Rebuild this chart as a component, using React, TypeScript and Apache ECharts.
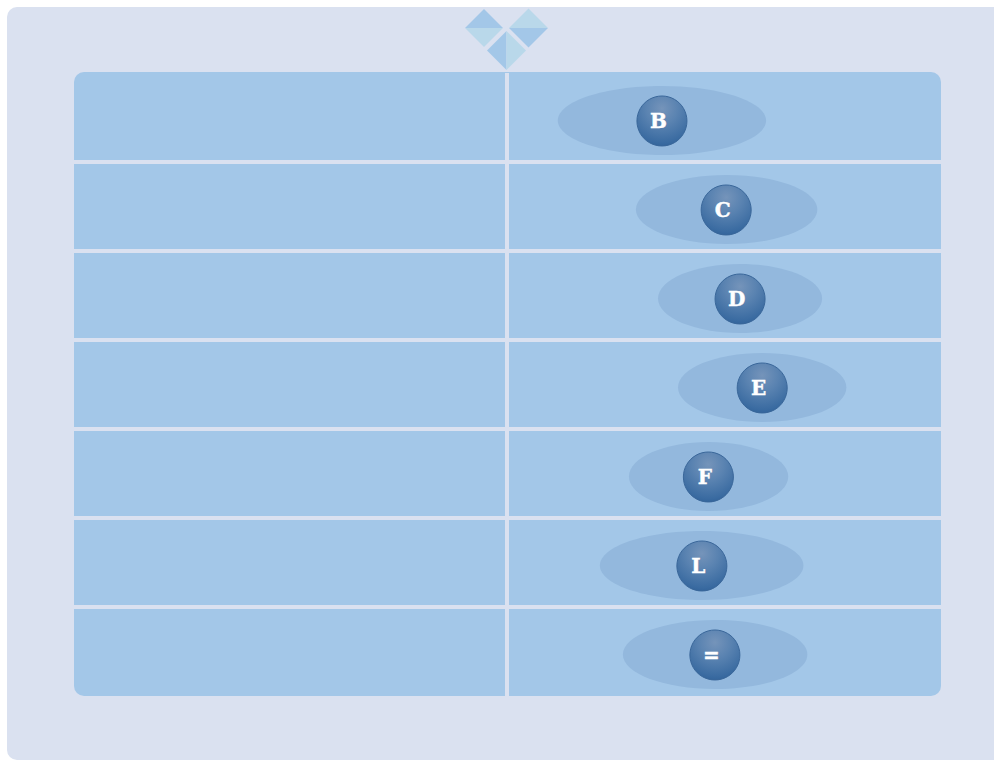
import React, { useEffect, useRef } from "react";
import * as echarts from "echarts";

const categories = ["B", "C", "D", "E", "F", "L", "="];
const means = [35.7, 50.5, 53.7, 58.8, 46.4, 44.9, 47.9];
const lows = [11.7, 29.7, 34.8, 39.4, 28.1, 21.4, 26.7];
const highs = [59.7, 71.5, 72.6, 78.2, 64.8, 68.3, 69.2];

const DARK = "#a3c7e8";
const LIGHT = "#b9d8ea";

function diamond(cx: number, cy: number, r: number, split: "h" | "v", first: string, second: string) {
  const a = split === "h"
    ? [[cx - r, cy], [cx, cy - r], [cx + r, cy]]
    : [[cx, cy - r], [cx - r, cy], [cx, cy + r]];
  const b = split === "h"
    ? [[cx - r, cy], [cx, cy + r], [cx + r, cy]]
    : [[cx, cy - r], [cx + r, cy], [cx, cy + r]];
  return [
    { type: "polygon", z: 1, shape: { points: a }, style: { fill: first } },
    { type: "polygon", z: 1, shape: { points: b }, style: { fill: second } },
  ];
}

export default function App() {
  const ref = useRef<HTMLDivElement>(null);
  useEffect(() => {
    const chart = echarts.init(ref.current!, undefined, { renderer: "svg" });
    chart.setOption({
      animation: false,
      backgroundColor: "#ffffff",
      graphic: [
        { type: "rect", z: -10, shape: { x: 7, y: 7, width: 1000, height: 753, r: 10 }, style: { fill: "#dae1f0" } },
        { type: "rect", z: -9, shape: { x: 74, y: 72, width: 867, height: 624, r: 10 }, style: { fill: "#a3c7e8" } },
        ...diamond(484, 28, 19, "h", DARK, LIGHT),
        ...diamond(528.5, 28, 19.5, "h", LIGHT, DARK),
        ...diamond(506.5, 50.5, 19.5, "v", DARK, LIGHT),
      ],
      grid: { left: 73, top: 73, width: 868, height: 623 },
      xAxis: {
        type: "value",
        min: -100,
        max: 100,
        interval: 100,
        axisLine: { show: false },
        axisTick: { show: false },
        axisLabel: { show: false },
        splitLine: { show: true, showMinLine: false, showMaxLine: false, lineStyle: { color: "#dae1f0", width: 4 } },
      },
      yAxis: {
        type: "category",
        inverse: true,
        data: categories,
        axisLine: { show: false },
        axisTick: { show: false },
        axisLabel: { show: false },
        splitLine: { show: true, showMinLine: false, showMaxLine: false, lineStyle: { color: "#dae1f0", width: 4 } },
      },
      series: [
        {
          type: "custom",
          clip: false,
          data: categories.map((c, i) => [means[i], i, lows[i], highs[i], c]),
          encode: { x: 0, y: 1 },
          renderItem: (_p: any, api: any) => {
            const [cx, cy0] = api.coord([api.value(0), api.value(1)]);
            const lowX = api.coord([api.value(2), api.value(1)])[0];
            const highX = api.coord([api.value(3), api.value(1)])[0];
            return {
              type: "group",
              children: [
                {
                  type: "ellipse",
                  shape: { cx: (lowX + highX) / 2, cy: cy0 + 3, rx: (highX - lowX) / 2, ry: 34.5 },
                  style: { fill: "#93b8dd" },
                },
                {
                  type: "circle",
                  shape: { cx, cy: cy0 + 3.5, r: 25 },
                  style: {
                    fill: new echarts.graphic.RadialGradient(0.5, 0.25, 0.8, [
                      { offset: 0, color: "#7594ba" },
                      { offset: 0.4, color: "#5a83b1" },
                      { offset: 0.85, color: "#3a6ba1" },
                      { offset: 1, color: "#2f6098" },
                    ]),
                    stroke: "#3a679a",
                    lineWidth: 1,
                  },
                },
                {
                  type: "text",
                  style: {
                    x: cx - 3.5,
                    y: cy0 + 3.5,
                    text: String(api.value(4)),
                    fill: "#ffffff",
                    stroke: "#ffffff",
                    lineWidth: 0.4,
                    font: "bold 20px 'DejaVu Serif'",
                    align: "center",
                    verticalAlign: "middle",
                  },
                },
              ],
            };
          },
        },
      ],
    });
    return () => chart.dispose();
  }, []);
  return <div ref={ref} style={{ position: "absolute", left: 0, top: 0, width: 994, height: 760 }} />;
}
